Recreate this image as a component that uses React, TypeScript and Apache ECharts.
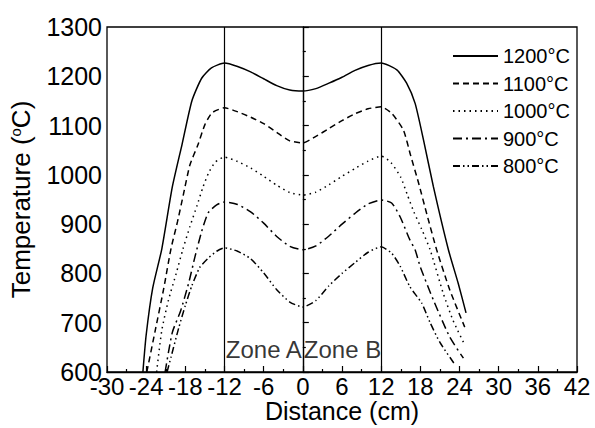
import React, { useEffect, useRef } from "react";
import * as echarts from "echarts";

const x1200 = [-24.5, -24, -23, -21.6, -20, -18.5, -17, -15.5, -14, -12, -10, -8, -6, -4, -2, 0, 2, 4, 6, 8, 10, 12, 14.4, 15.9, 17.2, 18.5, 20, 22.3, 23.8, 25];
const y1200 = [600, 675, 770, 850, 975, 1062, 1150, 1196, 1217, 1227, 1220, 1209, 1195, 1181, 1172, 1170, 1175, 1186, 1198, 1212, 1222, 1227, 1213, 1186, 1145, 1070, 976, 848, 780, 720];

const x1100 = [-23.9, -22.6, -21.3, -20.2, -19.2, -18.3, -17.3, -16.1, -15, -13.9, -12, -10, -8, -6, -4, -2, 0, 2, 4, 6, 8, 10, 12, 13.6, 15.4, 16.5, 17.7, 19, 20.5, 22.5, 24.8];
const y1100 = [600, 685, 770, 850, 905, 960, 1020, 1060, 1102, 1126, 1136, 1128, 1117, 1104, 1086, 1069, 1065, 1078, 1094, 1110, 1124, 1134, 1138, 1125, 1091, 1040, 985, 920, 848, 767, 691];

const x1000 = [-22.4, -21.6, -20.6, -19.4, -18.4, -17.3, -16.2, -15.3, -14.4, -13.4, -12, -10, -8, -6, -4, -2, 0, 2, 4, 6, 8, 10, 12, 13.5, 15, 16, 17, 18.2, 19.5, 21.5, 23, 24.8];
const y1000 = [600, 685, 745, 800, 848, 895, 938, 975, 1005, 1026, 1036, 1027, 1014, 997, 979, 964, 959, 965, 980, 997, 1013, 1028, 1038, 1025, 995, 960, 925, 890, 848, 760, 705, 655];

const x900 = [-21.1, -20, -18.7, -17.5, -16.5, -15.5, -14.5, -13.2, -12, -10, -8, -6, -4, -2, 0, 2, 4, 6, 8, 10, 12, 13.6, 14.9, 16.4, 17.2, 18, 20, 22.5, 24.6];
const y900 = [600, 680, 725, 780, 835, 885, 923, 939, 945, 940, 925, 902, 875, 855, 848, 856, 876, 900, 922, 941, 949, 943, 915, 868, 848, 813, 746, 671, 628];

const x800 = [-20.8, -20.2, -19, -18, -17, -15.8, -14.5, -13.2, -12, -10, -8, -6, -4, -2, 0, 2, 4, 6, 8, 10, 12, 13.6, 14.9, 16.4, 18.2, 19.5, 21, 23.3];
const y800 = [600, 630, 690, 735, 775, 812, 831, 845, 852, 845, 830, 801, 767, 742, 732, 745, 775, 800, 822, 843, 854, 841, 815, 773, 740, 700, 660, 615];

const seriesNames = ["1200°C", "1100°C", "1000°C", "900°C", "800°C"];
const zoneLines = [-12, 0, 12];
const zoneNames = ["Zone A", "Zone B"];
const zoneLabelX = 0;
const zoneLabelY = 645;

const FONT = "'Liberation Sans', Arial, sans-serif";

function zip(xs: number[], ys: number[]) {
  return xs.map((x, i) => [x, ys[i]]);
}

export default function App() {
  const ref = useRef<HTMLDivElement>(null);
  useEffect(() => {
    if (!ref.current) return;
    const chart = echarts.init(ref.current, null, { renderer: "svg" });
    const dashes: any[] = ["solid", [6, 4], [1.5, 4], [9, 4, 2, 4], [7, 3, 1.5, 3, 1.5, 3]];
    const datas = [zip(x1200, y1200), zip(x1100, y1100), zip(x1000, y1000), zip(x900, y900), zip(x800, y800)];
    const series: any[] = datas.map((d, i) => ({
      name: seriesNames[i],
      type: "line",
      data: d,
      symbol: "none",
      showSymbol: false,
      smooth: 0.2,
      lineStyle: { color: "#000", width: 1.5, type: dashes[i] },
      itemStyle: { color: "#000" },
      ...(i === 0
        ? {
            markLine: {
              silent: true,
              symbol: ["none", "none"],
              label: { show: false },
              lineStyle: { color: "#000", type: "solid", width: 1.2 },
              data: zoneLines.map((v) => ({ xAxis: v })),
            },
          }
        : {}),
    }));
    series.push({
      name: "zones",
      type: "scatter",
      symbolSize: 0,
      silent: true,
      z: 10,
      data: [
        { value: [zoneLabelX, zoneLabelY], label: { position: "left", formatter: zoneNames[0] } },
        { value: [zoneLabelX, zoneLabelY], label: { position: "right", formatter: zoneNames[1] } },
      ],
      label: {
        show: true,
        distance: 1,
        fontSize: 24,
        fontFamily: FONT,
        color: "#000",
        textBorderWidth: 0,
      },
    });

    chart.setOption({
      animation: false,
      backgroundColor: "#fff",
      grid: {
        left: 107,
        right: 18,
        top: 27,
        bottom: 56,
        show: true,
        borderColor: "#000",
        borderWidth: 1.3,
        backgroundColor: "transparent",
        containLabel: false,
        outerBoundsMode: "none",
      },
      legend: {
        data: seriesNames,
        orient: "vertical",
        left: 447,
        top: 41,
        itemWidth: 45,
        itemHeight: 14,
        itemGap: 7.5,
        itemStyle: { opacity: 0 },
        textStyle: { fontSize: 20, lineHeight: 20, color: "#000", fontFamily: FONT },
        selectedMode: false,
      },
      xAxis: {
        type: "value",
        min: -30,
        max: 42,
        interval: 6,
        name: "Distance (cm)",
        nameLocation: "middle",
        nameGap: 28,
        nameMoveOverlap: false,
        nameTextStyle: { fontSize: 25, lineHeight: 22, color: "#000", fontFamily: FONT },
        axisLine: { show: true, lineStyle: { color: "#000", width: 1.3 } },
        axisTick: { show: true, inside: true, length: 6, lineStyle: { color: "#000", width: 1.2 } },
        minorTick: { show: true, splitNumber: 2, length: 3, lineStyle: { color: "#000", width: 1.2 } },
        splitLine: { show: false },
        axisLabel: { fontSize: 24, lineHeight: 22, color: "#000", margin: 3, fontFamily: FONT, formatter: (v: number) => String(v) },
      },
      yAxis: {
        type: "value",
        min: 600,
        max: 1300,
        interval: 100,
        name: "Temperature ({s|o}C)",
        nameLocation: "middle",
        nameGap: 73,
        nameMoveOverlap: false,
        nameTextStyle: {
          fontSize: 26,
          color: "#000",
          fontFamily: FONT,
          rich: { s: { fontSize: 15, verticalAlign: "top", lineHeight: 26, fontFamily: FONT, color: "#000" } },
        },
        axisLine: { show: true, lineStyle: { color: "#000", width: 1.3 } },
        axisTick: { show: true, inside: true, length: 6, lineStyle: { color: "#000", width: 1.2 } },
        minorTick: { show: true, splitNumber: 2, length: 3, lineStyle: { color: "#000", width: 1.2 } },
        splitLine: { show: false },
        axisLabel: { fontSize: 25, color: "#000", margin: 5, fontFamily: FONT, formatter: (v: number) => String(v) },
      },
      series,
    });
    return () => chart.dispose();
  }, []);
  return (
    <div
      ref={ref}
      style={{ position: "fixed", left: 0, top: 0, width: 595, height: 428, background: "#fff" }}
    />
  );
}
